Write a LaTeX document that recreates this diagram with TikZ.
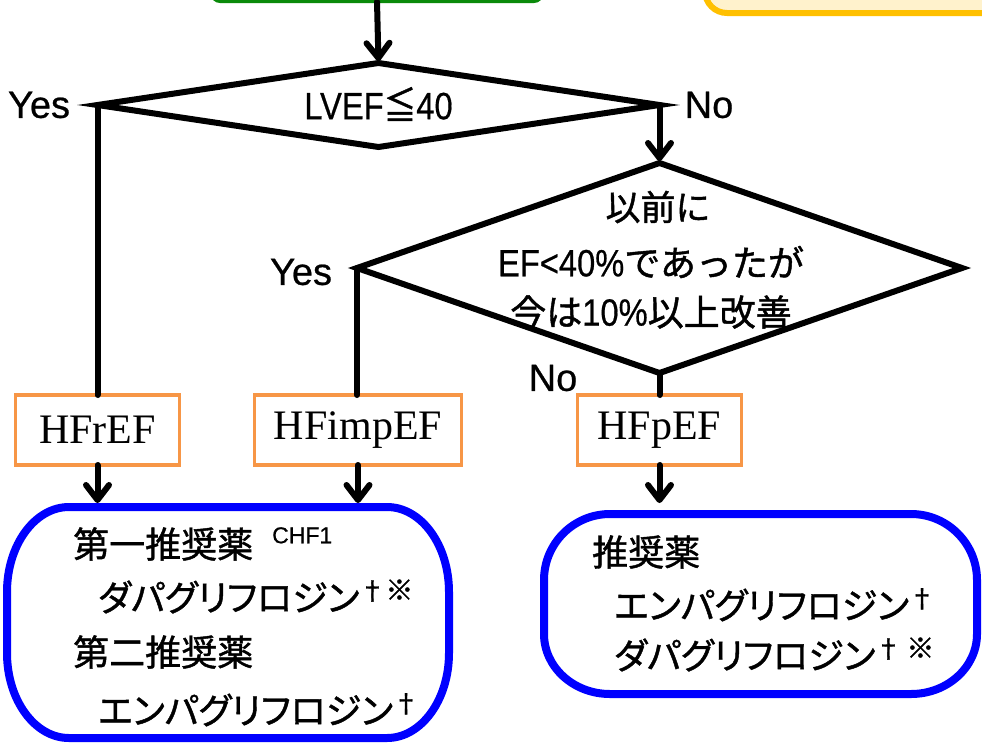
\documentclass[tikz,border=0pt]{standalone}
\usepackage{fontspec}
\usepackage{graphicx}
\setmainfont{Liberation Sans}[FakeBold=0.6]
\newfontfamily\jp{Noto Sans CJK JP}[FakeBold=1.2]
\newfontfamily\jpp{Noto Sans CJK JP}[RawFeature=+palt,FakeBold=1.2]
\newfontfamily\hfserif{Liberation Serif}
\usetikzlibrary{shapes.geometric,arrows.meta,calc}
\definecolor{startgreen}{HTML}{0A8A0A}
\definecolor{hforange}{HTML}{F79646}
\definecolor{boxblue}{HTML}{0000FF}
\definecolor{notestroke}{HTML}{FFC000}
\definecolor{notefill}{HTML}{FFF2CC}
\newcommand\supmark[1]{\smash{\raisebox{0.3em}{\fontsize{26}{26}\selectfont #1}}}
\newcommand\kome{{\jp\fontsize{28}{28}\selectfont ※}}
\newcommand\cond[1]{\scalebox{0.86}[1]{#1}}
\begin{document}
\begin{tikzpicture}[x=1pt,y=1pt,
  conn/.style={line width=6pt, draw=black, line cap=round, line join=round},
  arr/.style={conn, -{Straight Barb[length=15pt,width=23pt,round]}},
  dia/.style={diamond, draw=black, line width=6pt, inner sep=0pt, outer sep=0pt, line join=miter},
  hfbox/.style={draw=hforange, line width=3.5pt, inner sep=0pt, outer sep=0pt, minimum height=70pt,
     font=\hfserif\fontsize{42}{42}\selectfont},
  lbl/.style={inner sep=0pt, font=\fontsize{38}{38}\selectfont},
  dtxt/.style={inner sep=0pt, font=\fontsize{38}{38}\selectfont},
  btxt/.style={inner sep=0pt, anchor=west, font=\fontsize{36}{36}\selectfont},
  bluebox/.style={draw=boxblue, line width=8pt},
  frame/.style={inner sep=0pt, outer sep=0pt}
]
\useasboundingbox (0,0) rectangle (982,-747);
\clip (0,0) rectangle (982,-747);

% partially visible top boxes
\node[frame, draw=startgreen, line width=3pt, rounded corners=8pt, fill=white,
      minimum width=330pt, minimum height=60pt] (start) at (377,28.5) {};
\node[frame, draw=notestroke, fill=notefill, line width=6pt, rounded corners=22pt,
      minimum width=400pt, minimum height=100pt] (note) at (905,37) {};

% decisions
\node[dia, minimum width=562pt, minimum height=84pt] (d1) at (378.5,-105) {};
\node[dia, minimum width=605pt, minimum height=210pt] (d2) at (659.5,-268) {};

\node[dtxt] (t1) at (378.5,-104) {\cond{LVEF{\jp ≦}40}};
\node[inner sep=0pt, font=\jp\fontsize{35}{35}\selectfont] (q1) at (658,-207) {以前に};
\node[dtxt] (q2) at (651,-262) {\cond{EF<40\%}{\jp\fontsize{36}{36}\selectfont であったが}};
\node[dtxt] (q3) at (651,-312) {{\jp\fontsize{36}{36}\selectfont 今は}\cond{10\%}{\jp\fontsize{36}{36}\selectfont 以上改善}};

% labels
\node[lbl] (yes1) at (39,-105) {Yes};
\node[lbl] (no1) at (709,-105) {No};
\node[lbl] (yes2) at (301,-272) {Yes};
\node[lbl] (no2) at (553,-378) {No};

% categories
\node[hfbox, minimum width=164pt] (hfr) at (97.5,-430) {HFrEF};
\node[hfbox, minimum width=207pt] (himp) at (358,-430) {HFimpEF};
\node[hfbox, minimum width=164pt] (hfp) at (659.5,-430) {HFpEF};

% recommendation boxes (frames)
\node[frame, minimum width=442pt, minimum height=231pt] (lbox) at (228,-622.5) {};
\node[frame, minimum width=433pt, minimum height=180pt] (rbox) at (760.5,-604) {};

\draw[bluebox] ([xshift=62pt]lbox.north west) -- ([xshift=-62pt]lbox.north east)
  arc[start angle=90,end angle=0,x radius=62pt,y radius=85pt]
  -- ([yshift=85pt]lbox.south east)
  arc[start angle=0,end angle=-90,x radius=62pt,y radius=85pt]
  -- ([xshift=62pt]lbox.south west)
  arc[start angle=270,end angle=180,x radius=62pt,y radius=85pt]
  -- ([yshift=-85pt]lbox.north west)
  arc[start angle=180,end angle=90,x radius=62pt,y radius=85pt] -- cycle;

\draw[bluebox] ([xshift=66pt]rbox.north west) -- ([xshift=-66pt]rbox.north east)
  arc[start angle=90,end angle=0,x radius=66pt,y radius=66pt]
  -- ([yshift=60pt]rbox.south east)
  arc[start angle=0,end angle=-90,x radius=66pt,y radius=60pt]
  -- ([xshift=66pt]rbox.south west)
  arc[start angle=270,end angle=180,x radius=66pt,y radius=60pt]
  -- ([yshift=-66pt]rbox.north west)
  arc[start angle=180,end angle=90,x radius=66pt,y radius=66pt] -- cycle;

% box texts
\node[btxt] (l1) at (73,-544) {\jp 第一推奨薬};
\node[inner sep=0pt, anchor=north west, font=\fontsize{23}{23}\selectfont] (l1s) at (272,-527) {CHF1};
\node[btxt] (l2) at (98,-597) {\jpp ダパグリフロジン\supmark{†\kome}};
\node[btxt] (l3) at (73,-652) {\jp 第二推奨薬};
\node[btxt] (l4) at (98,-710) {\jpp エンパグリフロジン\supmark{†}};

\node[btxt] (r1) at (592,-552) {\jp 推奨薬};
\node[btxt] (r2) at (614,-605) {\jpp エンパグリフロジン\supmark{†}};
\node[btxt] (r3) at (614,-655) {\jpp ダパグリフロジン\supmark{†\hspace{5pt}\kome}};

% connectors
\draw[arr, shorten >=2pt] (start.south) -- (d1.north);
\draw[conn] (d1.west) -- (d1.west |- hfr.north);
\draw[arr, shorten >=2pt] (d1.east) -- (d1.east |- d2.north);
\draw[conn] (d2.west) -- (d2.west |- himp.north);
\draw[conn] (d2.south) -- (hfp.north);
\draw[arr, shorten >=4pt] (hfr.south) -- (hfr.south |- lbox.north);
\draw[arr, shorten >=4pt] (himp.south) -- (himp.south |- lbox.north);
\draw[arr, shorten >=11pt] (hfp.south) -- (hfp.south |- rbox.north);
\end{tikzpicture}
\end{document}
